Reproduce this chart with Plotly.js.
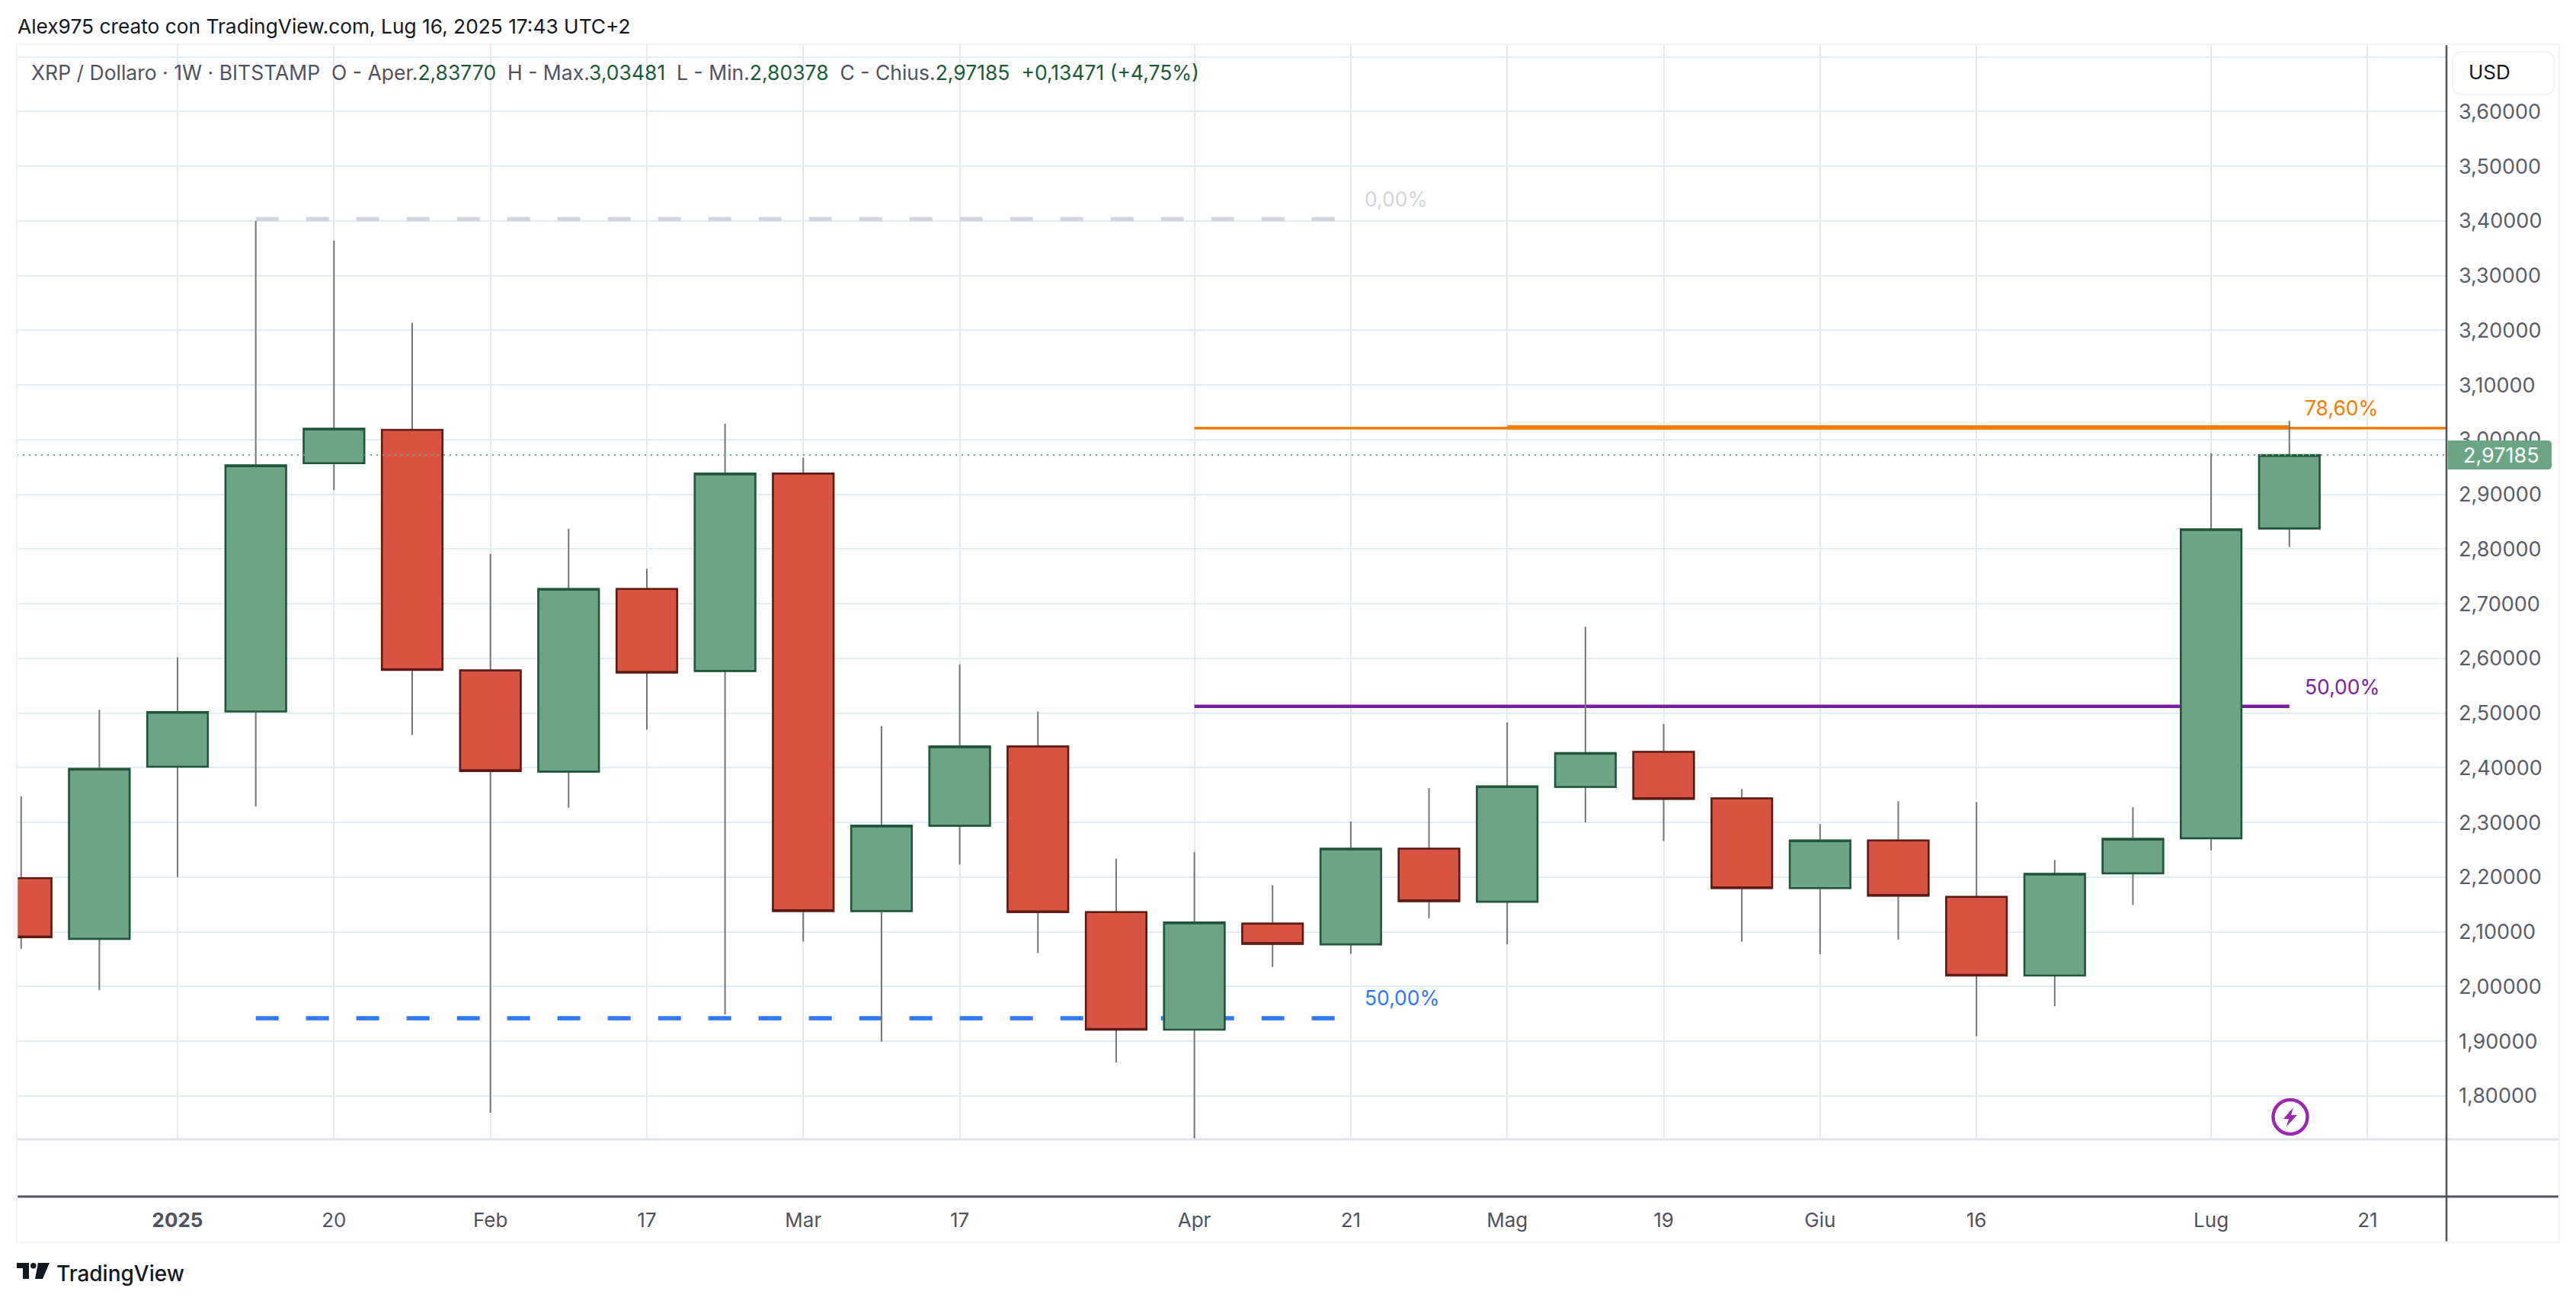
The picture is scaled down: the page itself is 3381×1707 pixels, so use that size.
<!DOCTYPE html>
<html>
<head>
<meta charset="utf-8">
<script src="https://cdn.plot.ly/plotly-3.0.1.min.js"></script>
<style>html,body{margin:0;padding:0;background:#fff}#chart{width:3381px;height:1707px}</style>
</head>
<body>
<div id="chart"></div>
<script>
// ---- chart data ----
const weeks = ["2024-12-23","2024-12-30","2025-01-06","2025-01-13","2025-01-20","2025-01-27","2025-02-03","2025-02-10","2025-02-17","2025-02-24","2025-03-03","2025-03-10","2025-03-17","2025-03-24","2025-03-31","2025-04-07","2025-04-14","2025-04-21","2025-04-28","2025-05-05","2025-05-12","2025-05-19","2025-05-26","2025-06-02","2025-06-09","2025-06-16","2025-06-23","2025-06-30","2025-07-07","2025-07-14"];
const opens  = [2.198,2.087,2.402,2.503,2.957,3.018,2.578,2.393,2.727,2.577,2.938,2.138,2.294,2.439,2.136,1.921,2.115,2.077,2.252,2.155,2.365,2.429,2.344,2.180,2.267,2.164,2.020,2.207,2.271,2.8377];
const highs  = [2.348,2.506,2.602,3.400,3.364,3.214,2.791,2.837,2.764,3.029,2.967,2.476,2.589,2.503,2.234,2.246,2.185,2.302,2.363,2.483,2.658,2.480,2.361,2.297,2.339,2.337,2.231,2.328,2.975,3.03481];
const lows   = [2.069,1.993,2.200,2.329,2.908,2.460,1.769,2.327,2.470,1.949,2.082,1.899,2.223,2.061,1.861,1.722,2.036,2.060,2.125,2.077,2.300,2.266,2.082,2.059,2.086,1.909,1.964,2.149,2.249,2.80378];
const closes = [2.090,2.398,2.502,2.953,3.020,2.579,2.394,2.727,2.574,2.938,2.138,2.294,2.439,2.136,1.921,2.117,2.078,2.252,2.156,2.366,2.427,2.343,2.180,2.267,2.166,2.020,2.206,2.270,2.836,2.97185];
const lastPrice = 2.97185;

const xTickVals = ["2025-01-06","2025-01-20","2025-02-03","2025-02-17","2025-03-03","2025-03-17","2025-04-07","2025-04-21","2025-05-05","2025-05-19","2025-06-02","2025-06-16","2025-07-07","2025-07-21"];
const xTickText = ["<b>2025</b>","20","Feb","17","Mar","17","Apr","21","Mag","19","Giu","16","Lug","21"];
const yTickVals = [1.8,1.9,2.0,2.1,2.2,2.3,2.4,2.5,2.6,2.7,2.8,2.9,3.0,3.1,3.2,3.3,3.4,3.5,3.6,3.7];
const yTickText = ["1,80000","1,90000","2,00000","2,10000","2,20000","2,30000","2,40000","2,50000","2,60000","2,70000","2,80000","2,90000","3,00000","3,10000","3,20000","3,30000","3,40000","3,50000","3,60000",""];

// drawn levels: [start date, end date, price]
const fibZero    = {x:["2025-01-13","2025-04-21"], y:[3.4033,3.4033]};
const fibHalfBlu = {x:["2025-01-13","2025-04-21"], y:[1.942,1.942]};
const fibOrangeA = {x:["2025-04-07","2025-07-29"], y:[3.0212,3.0212]};
const fibOrangeB = {x:["2025-05-05","2025-07-14"], y:[3.0225,3.0225]};
const fibPurple  = {x:["2025-04-07","2025-07-14"], y:[2.5124,2.5124]};

// ---- geometry helpers (page pixels to paper fractions) ----
const PL=22, PR=3211, PT=58, PB=1495;
const fx = p => (p-PL)/(PR-PL);
const fy = p => (PB-p)/(PB-PT);
const FONT = 'Inter, "Noto Sans", sans-serif';
const paperRect = (x0,y0,x1,y1,fill,line,w) => ({type:'rect',xref:'paper',yref:'paper',x0:fx(x0),x1:fx(x1),y0:fy(y1),y1:fy(y0),fillcolor:fill||'rgba(0,0,0,0)',line:{color:line||'rgba(0,0,0,0)',width:w||0},layer:'above'});
const pline = (x0,y0,x1,y1,c,w) => ({type:'line',xref:'paper',yref:'paper',x0:fx(x0),x1:fx(x1),y0:fy(y0),y1:fy(y1),line:{color:c,width:w},layer:'above'});
const P = (x,y) => fx(x).toFixed(6)+','+fy(y).toFixed(6);
const poly = (pts,fill) => ({type:'path',xref:'paper',yref:'paper',path:'M'+pts.map(p=>P(p[0],p[1])).join('L')+'Z',fillcolor:fill,line:{width:0},layer:'above'});
function rounded(x0,y0,x1,y1,rl,rr,fill,line,w){
  const d = 'M'+P(x0+rl,y0)+'L'+P(x1-rr,y0)+'Q'+P(x1,y0)+' '+P(x1,y0+rr)+'L'+P(x1,y1-rr)+'Q'+P(x1,y1)+' '+P(x1-rr,y1)+'L'+P(x0+rl,y1)+'Q'+P(x0,y1)+' '+P(x0,y1-rl)+'L'+P(x0,y0+rl)+'Q'+P(x0,y0)+' '+P(x0+rl,y0)+'Z';
  return {type:'path',xref:'paper',yref:'paper',path:d,fillcolor:fill,line:{color:line||'rgba(0,0,0,0)',width:w||0},layer:'above'};
}
const ann = (x,y,text,size,color,anchor,extra) => Object.assign({xref:'paper',yref:'paper',x:fx(x),y:fy(y),text:text,showarrow:false,xanchor:anchor||'left',yanchor:'middle',borderpad:0,font:{family:FONT,size:size,color:color}},extra||{});

const lineTrace = (d,color,width,dash) => ({type:'scatter',mode:'lines',x:d.x,y:d.y,line:{color:color,width:width,dash:dash||'solid'},hoverinfo:'skip',showlegend:false,zorder:0,cliponaxis:true});

const bodyHi = opens.map((o,i)=>Math.max(o,closes[i]));
const bodyLo = opens.map((o,i)=>Math.min(o,closes[i]));
const WICK = '#737577';
const traces = [
  lineTrace(fibZero,'#d1d4dc',5.5,'30px,36px'),
  lineTrace(fibHalfBlu,'#2e77f6',5.5,'30px,36px'),
  lineTrace(fibOrangeA,'#f57c00',3.5),
  lineTrace(fibOrangeB,'#f57c00',5.5),
  lineTrace(fibPurple,'#7b1fa2',4.5),
  {type:'candlestick',x:weeks,open:opens,high:highs,low:lows,close:closes,whiskerwidth:0,showlegend:false,zorder:1,
   increasing:{line:{color:WICK,width:2},fillcolor:'rgba(0,0,0,0)'},decreasing:{line:{color:WICK,width:2},fillcolor:'rgba(0,0,0,0)'}},
  {type:'candlestick',x:weeks,open:opens,high:bodyHi,low:bodyLo,close:closes,whiskerwidth:0,showlegend:false,zorder:2,
   increasing:{line:{color:'#22563b',width:2.6},fillcolor:'#6ca584'},decreasing:{line:{color:'#5f1a13',width:2.6},fillcolor:'#d85442'}}
];

const GRID = '#e1ecf2';
const layout = {
  width:3381,height:1707,
  margin:{l:PL,r:3381-PR,t:PT,b:1707-PB,pad:0},
  paper_bgcolor:'#ffffff',plot_bgcolor:'#ffffff',
  separators:',.',showlegend:false,hovermode:false,boxmode:'overlay',boxgap:0.225,boxgroupgap:0,
  xaxis:{type:'date',range:["2024-12-22 14:38","2025-07-28 01:30"],tickmode:'array',tickvals:xTickVals,ticktext:xTickText,
    showgrid:true,gridcolor:GRID,gridwidth:2,zeroline:false,showline:false,ticks:'',rangeslider:{visible:false},fixedrange:true,
    tickangle:0,ticklabelstandoff:88,tickfont:{family:FONT,size:26,color:'#4f525d'}},
  yaxis:{side:'right',range:[1.7203,3.7233],tickmode:'array',tickvals:yTickVals,ticktext:yTickText,
    showgrid:true,gridcolor:GRID,gridwidth:2,zeroline:false,showline:false,ticks:'',fixedrange:true,
    ticklabelstandoff:15,tickfont:{family:FONT,size:27,color:'#5a5d68'}},
  shapes:[
    {type:'line',xref:'paper',yref:'y',x0:0,x1:1,y0:lastPrice,y1:lastPrice,line:{color:'#6ca584',width:2,dash:'2px,6px'},layer:'above'},
    pline(PL,PB,3359,PB,'#e0e3eb',3),
    pline(PL,1570,3359,1570,'#50535e',3),
    pline(PR,PT,PR,1630,'#50535e',2.5),
    paperRect(PL,PT,3359,1630,null,'#f2f3f5',2.5),
    rounded(3219,68,3352,124,12,12,'#ffffff','#f0f3fa',2),
    rounded(3212.5,578,3349,616,0,5,'#6ca584',null,0),
    {type:'circle',xref:'paper',yref:'paper',x0:fx(2983.5),x1:fx(3028.5),y0:fy(1488),y1:fy(1443),line:{color:'#9c27b0',width:4.5},fillcolor:'rgba(0,0,0,0)',layer:'above'},
    poly([[3010,1453],[2997,1468],[3004,1468],[3001,1478],[3015,1463],[3007,1463]],'#9c27b0'),
    poly([[22,1657],[38,1657],[38,1678],[30,1678],[30,1664],[22,1664]],'#131722'),
    {type:'circle',xref:'paper',yref:'paper',x0:fx(40),x1:fx(47.5),y0:fy(1664.5),y1:fy(1657),fillcolor:'#131722',line:{width:0},layer:'above'},
    poly([[50,1657],[65,1657],[56,1678],[46,1678]],'#131722')
  ],
  annotations:[
    ann(22,35,'Alex975 creato con TradingView.com, Lug 16, 2025 17:43 UTC+2',26.3,'#131722'),
    ann(40,95,'XRP / Dollaro · 1W · BITSTAMP\u00a0\u00a0O - Aper.<span style="color:#1b5a38">2,83770</span>\u00a0\u00a0H - Max.<span style="color:#1b5a38">3,03481</span>\u00a0\u00a0L - Min.<span style="color:#1b5a38">2,80378</span>\u00a0\u00a0C - Chius.<span style="color:#1b5a38">2,97185</span>\u00a0\u00a0<span style="color:#1b5a38">+0,13471 (+4,75%)</span>',26.5,'#50535e'),
    ann(3267,95,'USD',26,'#131722','center'),
    ann(3232,597,'2,97185',27,'#ffffff'),
    ann(1790,261,'0,00%',26.5,'#d1d4dc'),
    ann(1790,1309,'50,00%',26.5,'#2e77f6'),
    ann(3024,535,'78,60%',26.5,'#f57c00'),
    ann(3024,901,'50,00%',26.5,'#7b1fa2'),
    ann(73,1671,'TradingView',28,'#131722','left',{font:{family:FONT,size:28,color:'#131722',weight:500}})
  ]
};
Plotly.newPlot('chart',traces,layout,{staticPlot:true,displayModeBar:false,responsive:false});
</script>
</body>
</html>
